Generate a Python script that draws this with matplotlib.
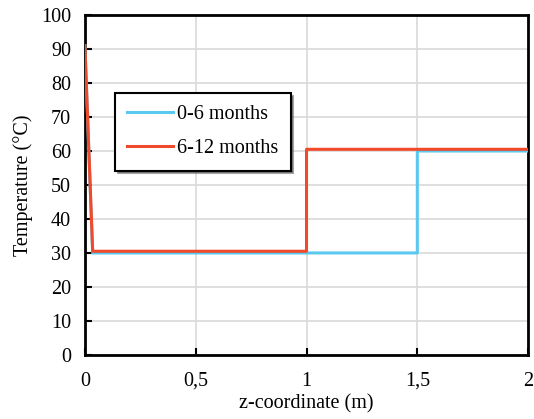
import matplotlib
matplotlib.use("Agg")
import matplotlib.pyplot as plt

plt.rcParams['font.family'] = ['Liberation Serif', 'DejaVu Serif']

x_blue = [0, 0.035, 1.5, 1.5, 2.0]
y_blue = [91, 30.0, 30.0, 60.0, 60.0]
x_red = [0, 0.035, 1.0, 1.0, 2.0]
y_red = [91, 30.5, 30.5, 60.5, 60.5]
labels = ['0-6 months', '6-12 months']
xticks = [0, 0.5, 1, 1.5, 2]
xticklabels = ['0', '0,5', '1', '1,5', '2']
yticks = list(range(0, 101, 10))

fig = plt.figure(figsize=(5.34, 4.19), dpi=100)
ax = fig.add_axes([0.159, 0.153, 0.830, 0.811])
ax.plot(x_blue, y_blue, color='#5BC8F0', lw=2.2, label=labels[0], zorder=3)
ax.plot(x_red, y_red, color='#F04A2A', lw=2.2, label=labels[1], zorder=4)
ax.set_xlim(0, 2)
ax.set_ylim(0, 100)
ax.set_xticks(xticks)
ax.set_xticklabels(xticklabels)
ax.set_yticks(yticks)
ax.grid(True, color='#D9D9D9', lw=1.2)
ax.set_axisbelow(True)
for s in ax.spines.values():
    s.set_linewidth(2)
    s.set_color('black')
ax.tick_params(direction='in', length=5, width=1.5, labelsize=14.5)
ax.tick_params(axis='x', pad=12)
ax.tick_params(axis='y', pad=10)
ax.set_xlabel('z-coordinate (m)', fontsize=14.5, labelpad=3)
ax.set_ylabel('Temperature (°C)', fontsize=14.5, labelpad=6)
leg = ax.legend(loc='upper left', bbox_to_anchor=(0.045, 0.80), fontsize=14.5,
                frameon=True, fancybox=False, shadow=True, edgecolor='black',
                framealpha=1, borderpad=0.6, labelspacing=0.75, handlelength=2.3,
                handletextpad=0.2)
leg.get_frame().set_linewidth(1.5)
fig.savefig('out.png', dpi=100)
